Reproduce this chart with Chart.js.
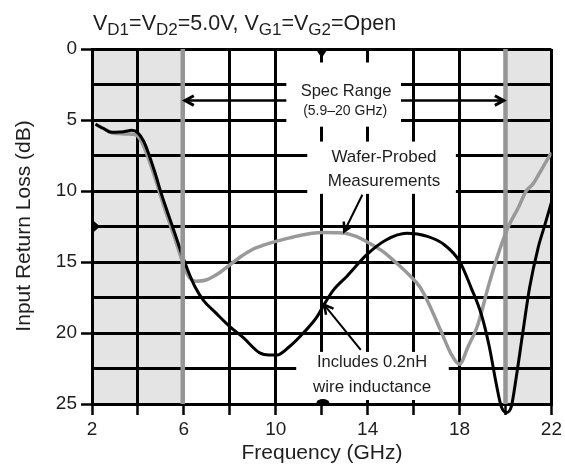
<!DOCTYPE html>
<html><head><meta charset="utf-8">
<script src="https://cdn.jsdelivr.net/npm/chart.js@4.4.0/dist/chart.umd.min.js"></script>
<style>html,body{margin:0;padding:0;background:#fff;}canvas{display:block}</style>
</head><body>
<canvas id="c" width="565" height="471"></canvas>
<script>
// ---- data ----
const xTickLabels = [2, 6, 10, 14, 18, 22];
const yTickLabels = [0, 5, 10, 15, 20, 25];
const specRange = [5.95, 20];

const freqInd = [2.15, 2.5, 2.85, 3.2, 3.45, 3.72, 4.0, 4.25, 4.45, 4.75, 5.0, 5.3, 5.6, 5.9, 6.2, 6.5, 6.85, 7.4, 8.0, 8.6, 9.3, 9.7, 10.05, 10.6, 11.2, 11.8, 12.1, 12.5, 13.1, 13.95, 14.8, 15.7, 16.6, 17.35, 18.0, 18.5, 18.95, 19.3, 19.6, 19.82, 20.04, 20.25, 20.47, 20.76, 21.05, 21.42, 21.71, 22.0];
const rlInd = [5.3, 5.6, 5.87, 5.85, 5.8, 5.73, 5.9, 6.5, 7.3, 8.75, 10.1, 11.55, 12.95, 14.4, 15.7, 16.8, 17.7, 18.6, 19.55, 20.35, 21.4, 21.55, 21.55, 20.95, 20.0, 18.85, 18.0, 17.0, 16.0, 14.5, 13.45, 12.98, 13.2, 13.8, 14.95, 16.8, 18.7, 21.0, 23.6, 25.2, 25.6, 25.2, 23.1, 19.9, 16.8, 14.0, 12.4, 10.8];

const freqWafer = [2.15, 2.5, 2.85, 3.2, 3.5, 3.75, 4.0, 4.25, 4.5, 4.75, 5.0, 5.3, 5.6, 5.9, 6.2, 6.55, 7.0, 7.3, 7.6, 8.0, 8.5, 9.0, 9.5, 10.0, 10.6, 11.2, 12.0, 12.9, 13.5, 14.1, 14.7, 15.26, 15.8, 16.27, 16.62, 17.2, 17.64, 18.0, 18.36, 18.8, 19.24, 19.67, 20.1, 20.55, 20.9, 21.2, 21.6, 22.0];
const rlWafer = [5.3, 5.6, 5.9, 5.95, 5.98, 6.0, 6.15, 6.85, 7.9, 9.1, 10.4, 11.9, 13.3, 14.8, 16.0, 16.35, 16.25, 16.0, 15.7, 15.2, 14.6, 14.1, 13.8, 13.55, 13.3, 13.08, 12.92, 12.95, 13.2, 13.7, 14.3, 15.08, 15.9, 16.75, 17.8, 19.9, 21.5, 22.2, 21.0, 19.4, 16.8, 14.5, 12.6, 11.2, 10.0, 9.5, 8.4, 7.3];

// ---- layout / annotation settings (data units) ----
const FONT = "'Liberation Sans', Arial, Helvetica, sans-serif";
const TXT = '#1e1e1e';
const whiteBoxes = [
  {x0: 10.46, x1: 15.45, y0: 0.95, y1: 5.47},
  {x0: 11.37, x1: 17.84, y0: 6.52, y1: 10.2},
  {x0: 10.89, x1: 17.53, y0: 21.33, y1: 24.72}
];
const labels = [
  {t: 'Spec Range', x: 13.06, y: 3.0, s: 16.5},
  {t: '(5.9\u201320 GHz)', x: 13.02, y: 4.41, s: 14},
  {t: 'Wafer-Probed', x: 14.71, y: 7.65, s: 17},
  {t: 'Measurements', x: 14.71, y: 9.34, s: 17},
  {t: 'Includes 0.2nH', x: 14.19, y: 22.1, s: 16.5},
  {t: 'wire inductance', x: 14.19, y: 23.8, s: 17}
];
const arrows = [
  {x0: 10.46, y0: 3.63, x1: 6.05, y1: 3.63, w: 2.5},
  {x0: 15.45, y0: 3.63, x1: 19.92, y1: 3.63, w: 2.5},
  {x0: 13.77, y0: 10.26, x1: 12.98, y1: 12.85, w: 2},
  {x0: 13.70, y0: 21.19, x1: 12.11, y1: 18.02, w: 2}
];
const titleParts = [['V',0],['D1',1],['=V',0],['D2',1],['=5.0V, V',0],['G1',1],['=V',0],['G2',1],['=Open',0]];

function drawArrow(ctx, x0, y0, x1, y1, w) {
  const ang = Math.atan2(y1 - y0, x1 - x0), L = 10, A = 0.5;
  ctx.lineWidth = w; ctx.strokeStyle = '#000'; ctx.lineCap = 'butt';
  ctx.beginPath(); ctx.moveTo(x0, y0); ctx.lineTo(x1, y1); ctx.stroke();
  ctx.lineWidth = w + 0.5;
  ctx.beginPath();
  ctx.moveTo(x1 - L * Math.cos(ang - A), y1 - L * Math.sin(ang - A));
  ctx.lineTo(x1, y1);
  ctx.lineTo(x1 - L * Math.cos(ang + A), y1 - L * Math.sin(ang + A));
  ctx.stroke();
}

const deco = {
  id: 'deco',
  beforeDraw(chart) {
    const {ctx, chartArea: a, scales: {x}} = chart;
    ctx.save();
    ctx.fillStyle = '#fff'; ctx.fillRect(0, 0, chart.width, chart.height);
    ctx.fillStyle = '#e4e4e4';
    const xl = x.getPixelForValue(specRange[0]), xr = x.getPixelForValue(specRange[1]);
    ctx.fillRect(a.left, a.top, xl - a.left, a.bottom - a.top);
    ctx.fillRect(xr, a.top, a.right - xr, a.bottom - a.top);
    ctx.restore();
  },
  beforeDatasetsDraw(chart) {
    const {ctx, scales: {x, y}} = chart;
    ctx.save(); ctx.fillStyle = '#fff';
    whiteBoxes.forEach(b => {
      const px0 = x.getPixelForValue(b.x0), px1 = x.getPixelForValue(b.x1);
      const py0 = y.getPixelForValue(b.y0), py1 = y.getPixelForValue(b.y1);
      ctx.fillRect(px0, py0, px1 - px0, py1 - py0);
    });
    ctx.restore();
  },
  afterDatasetsDraw(chart) {
    const {ctx, chartArea: a, scales: {x, y}} = chart;
    ctx.save();
    arrows.forEach(r => drawArrow(ctx, x.getPixelForValue(r.x0), y.getPixelForValue(r.y0), x.getPixelForValue(r.x1), y.getPixelForValue(r.y1), r.w));
    ctx.fillStyle = TXT; ctx.textAlign = 'center'; ctx.textBaseline = 'middle';
    labels.forEach(l => {
      ctx.font = l.s + 'px ' + FONT;
      ctx.fillText(l.t, x.getPixelForValue(l.x), y.getPixelForValue(l.y));
    });
    // markers
    ctx.fillStyle = '#000';
    let mx = x.getPixelForValue(12), my = a.top;
    ctx.beginPath(); ctx.moveTo(mx - 6, my); ctx.lineTo(mx + 6, my); ctx.lineTo(mx, my + 9); ctx.closePath(); ctx.fill();
    mx = a.left; my = y.getPixelForValue(12.5);
    ctx.beginPath(); ctx.moveTo(mx, my - 7); ctx.lineTo(mx, my + 7); ctx.lineTo(mx + 8, my); ctx.closePath(); ctx.fill();
    mx = x.getPixelForValue(12.05); my = a.bottom;
    ctx.beginPath(); ctx.ellipse(mx, my - 1, 6.5, 4, 0, Math.PI, 0); ctx.fill();
    // title
    let tx = 93;
    ctx.textAlign = 'left'; ctx.textBaseline = 'alphabetic'; ctx.fillStyle = TXT;
    titleParts.forEach(([t, sub]) => {
      ctx.font = (sub ? 17 : 21.5) + 'px ' + FONT;
      ctx.fillText(t, tx, sub ? 35 : 30);
      tx += ctx.measureText(t).width;
    });
    // axis titles
    ctx.textAlign = 'center'; ctx.textBaseline = 'middle';
    ctx.font = '21px ' + FONT;
    ctx.fillText('Frequency (GHz)', 322, 453);
    ctx.translate(24, 226); ctx.rotate(-Math.PI / 2);
    ctx.fillText('Input Return Loss (dB)', 0, 0);
    ctx.restore();
  }
};

const toXY = (xs, ys) => xs.map((v, i) => ({x: v, y: ys[i]}));

new Chart(document.getElementById('c'), {
  type: 'line',
  data: {
    datasets: [
      {label: 'Spec low', data: [{x: specRange[0], y: 0}, {x: specRange[0], y: 25}], borderColor: '#959595', borderWidth: 4.5, pointRadius: 0, order: 0},
      {label: 'Spec high', data: [{x: specRange[1], y: 0}, {x: specRange[1], y: 25}], borderColor: '#959595', borderWidth: 4.5, pointRadius: 0, order: 0},
      {label: 'Includes 0.2nH wire inductance', data: toXY(freqInd, rlInd), borderColor: '#000', borderWidth: 3, pointRadius: 0, cubicInterpolationMode: 'monotone', clip: 12, order: 1},
      {label: 'Wafer-Probed Measurements', data: toXY(freqWafer, rlWafer), borderColor: '#999', borderWidth: 3.5, pointRadius: 0, cubicInterpolationMode: 'monotone', order: 2}
    ]
  },
  options: {
    responsive: false, animation: false, devicePixelRatio: 1,
    layout: {padding: {top: 49, right: 12, left: 0, bottom: 0}},
    plugins: {legend: {display: false}, tooltip: {enabled: false}, title: {display: false}},
    scales: {
      x: {
        type: 'linear', min: 2, max: 22,
        afterFit: s => { s.height = 67; },
        ticks: {stepSize: 2, autoSkip: false, maxRotation: 0, padding: 3, color: TXT,
          font: {family: FONT, size: 19},
          callback: v => xTickLabels.includes(v) ? String(v) : ''},
        grid: {color: '#000', lineWidth: 3, tickLength: 11, tickWidth: 2.5, tickColor: '#000'},
        border: {color: '#000', width: 3}
      },
      y: {
        type: 'linear', reverse: true, min: 0, max: 25,
        afterFit: s => { s.width = 92; },
        ticks: {stepSize: 2.5, autoSkip: false, padding: 4, color: TXT,
          font: {family: FONT, size: 19},
          callback: v => yTickLabels.includes(v) ? String(v) : ''},
        grid: {color: '#000', lineWidth: 3, tickLength: 11, tickWidth: 2.5,
          tickColor: c => (c.tick && yTickLabels.includes(c.tick.value)) ? '#000' : 'rgba(0,0,0,0)'},
        border: {color: '#000', width: 3}
      }
    }
  },
  plugins: [deco]
});
</script>
</body></html>
